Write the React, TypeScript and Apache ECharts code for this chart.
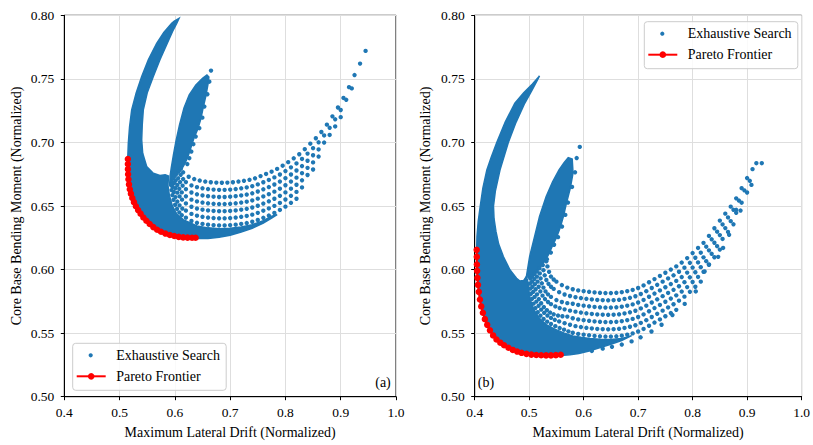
import React, { useEffect, useRef } from "react";
import * as echarts from "echarts";

// ---------- text ----------
const seriesNames = ["Exhaustive Search", "Pareto Frontier"];
const panelLabels = ["(a)", "(b)"];
const xAxisTitle = "Maximum Lateral Drift (Normalized)";
const yAxisTitle = "Core Base Bending Moment (Normalized)";
const xRange = [0.4, 1.0, 0.1];
const yRange = [0.5, 0.8, 0.05];

// ---------- panel (a) ----------
// outline of the saturated (solid) part of the point cloud
const bandA = [
  [0.6075, 0.7976], [0.599, 0.7955], [0.5943, 0.7937], [0.58, 0.7865], [0.5671, 0.778], [0.552, 0.765],
  [0.54, 0.7518], [0.53, 0.739], [0.5219, 0.7256], [0.518, 0.712], [0.5158, 0.6994], [0.5148, 0.688],
  [0.5145, 0.676], [0.517, 0.665], [0.523, 0.656], [0.533, 0.647], [0.545, 0.639], [0.56, 0.6325],
  [0.578, 0.628], [0.6, 0.6255], [0.62, 0.6248], [0.64, 0.6245], [0.66, 0.6245], [0.68, 0.6255],
  [0.7, 0.627], [0.72, 0.6295], [0.74, 0.6325], [0.76, 0.6365], [0.775, 0.6405], [0.785, 0.6432],
  [0.775, 0.642], [0.76, 0.6385], [0.74, 0.6352], [0.72, 0.6335], [0.7, 0.6325], [0.68, 0.6322], [0.66, 0.6328],
  [0.64, 0.6343], [0.62, 0.6383], [0.6151, 0.6393], [0.6036, 0.6436], [0.5955, 0.6501], [0.5902, 0.658],
  [0.5875, 0.6662], [0.5885, 0.6735],
  [0.5825, 0.6745], [0.573, 0.674], [0.561, 0.6758], [0.549, 0.681], [0.5418, 0.6915], [0.54, 0.702],
  [0.541, 0.714], [0.5429, 0.7256], [0.55, 0.739], [0.561, 0.7518], [0.573, 0.765], [0.5863, 0.778],
  [0.596, 0.7875], [0.6033, 0.7937],
];
const hornA = [
  [0.5905, 0.666], [0.5915, 0.674], [0.5935, 0.68], [0.5975, 0.6905], [0.602, 0.701], [0.6085, 0.714],
  [0.6165, 0.727], [0.626, 0.7374], [0.638, 0.7452], [0.65, 0.7505], [0.658, 0.753], [0.6615, 0.7515],
  [0.66, 0.746], [0.656, 0.7365], [0.651, 0.727], [0.647, 0.7185], [0.6415, 0.7105], [0.635, 0.704],
  [0.6305, 0.698], [0.6265, 0.6925], [0.6225, 0.6875], [0.617, 0.6825], [0.612, 0.6788], [0.607, 0.6765],
  [0.6015, 0.675], [0.597, 0.673], [0.5935, 0.6695],
];
const hornTipsA = [
  [0.6654, 0.7565], [0.6623, 0.7478], [0.6587, 0.7379], [0.6533, 0.7282], [0.6497, 0.7195], [0.6442, 0.7112],
  [0.6377, 0.7046], [0.6334, 0.6986], [0.6298, 0.6928], [0.6261, 0.6876], [0.6225, 0.683],
];
const stripA1 = [
  [0.611, 0.6795], [0.615, 0.6765], [0.625, 0.673], [0.635, 0.6712], [0.645, 0.67], [0.655, 0.6692], [0.665, 0.6687],
  [0.675, 0.6684], [0.685, 0.6683], [0.695, 0.6684], [0.705, 0.6687], [0.715, 0.6692], [0.725, 0.6698],
  [0.735, 0.6706], [0.745, 0.6718], [0.755, 0.6735], [0.765, 0.6752], [0.775, 0.677], [0.785, 0.6792],
  [0.795, 0.6817], [0.805, 0.6845], [0.815, 0.6875], [0.825, 0.6907], [0.835, 0.6947], [0.845, 0.699],
  [0.855, 0.7033], [0.865, 0.7082], [0.875, 0.714], [0.885, 0.7205], [0.895, 0.7275], [0.905, 0.735],
  [0.915, 0.7435], [0.925, 0.753], [0.935, 0.762], [0.945, 0.772],
];
const stripA2 = [
  [0.607, 0.6772], [0.6105, 0.6745], [0.615, 0.6712], [0.62, 0.6688], [0.63, 0.6662], [0.64, 0.6648],
  [0.65, 0.6639], [0.66, 0.6633], [0.67, 0.6629], [0.68, 0.6627], [0.69, 0.6627], [0.7, 0.6629],
  [0.71, 0.6633], [0.72, 0.6639], [0.73, 0.6646], [0.74, 0.6656], [0.75, 0.667], [0.76, 0.6687],
  [0.77, 0.6705], [0.78, 0.6725], [0.79, 0.6748], [0.8, 0.6775], [0.81, 0.6804], [0.82, 0.6835],
  [0.83, 0.687], [0.84, 0.6912], [0.85, 0.6955], [0.86, 0.7001], [0.87, 0.7055], [0.88, 0.7115],
  [0.89, 0.7182], [0.9, 0.7255], [0.91, 0.7335], [0.92, 0.7425],
];
const stripA3 = [
  [0.603, 0.6752], [0.606, 0.6718], [0.6095, 0.6688], [0.614, 0.666], [0.62, 0.6632], [0.63, 0.6606],
  [0.64, 0.6592], [0.65, 0.6583], [0.66, 0.6577], [0.67, 0.6573], [0.68, 0.6571], [0.69, 0.6571],
  [0.7, 0.6573], [0.71, 0.6577], [0.72, 0.6583], [0.73, 0.659], [0.74, 0.66], [0.75, 0.6614],
  [0.76, 0.6631], [0.77, 0.6649], [0.78, 0.6669], [0.79, 0.6692], [0.8, 0.6719], [0.81, 0.6748],
  [0.82, 0.6779], [0.83, 0.6814], [0.84, 0.6856], [0.85, 0.6899], [0.86, 0.6945], [0.87, 0.6999],
  [0.88, 0.7059], [0.89, 0.7126], [0.9, 0.7199],
];
const stripA4 = [
  [0.6, 0.6738], [0.6015, 0.67], [0.6045, 0.6665], [0.608, 0.6635], [0.6125, 0.6607], [0.62, 0.6576],
  [0.63, 0.655], [0.64, 0.6536], [0.65, 0.6527], [0.66, 0.6521], [0.67, 0.6517], [0.68, 0.6515],
  [0.69, 0.6515], [0.7, 0.6517], [0.71, 0.6521], [0.72, 0.6527], [0.73, 0.6534], [0.74, 0.6544],
  [0.75, 0.6558], [0.76, 0.6575], [0.77, 0.6593], [0.78, 0.6613], [0.79, 0.6636], [0.8, 0.6663],
  [0.81, 0.6692], [0.82, 0.6723], [0.83, 0.6758], [0.84, 0.68], [0.85, 0.6843], [0.86, 0.6889],
];
const stripA5 = [
  [0.597, 0.6718], [0.5985, 0.668], [0.601, 0.664], [0.6045, 0.6605], [0.6085, 0.6575], [0.613, 0.655],
  [0.62, 0.652], [0.63, 0.6494], [0.64, 0.648], [0.65, 0.6471], [0.66, 0.6465], [0.67, 0.6461],
  [0.68, 0.6459], [0.69, 0.6459], [0.7, 0.6461], [0.71, 0.6465], [0.72, 0.6471], [0.73, 0.6478],
  [0.74, 0.6488], [0.75, 0.6502], [0.76, 0.6519], [0.77, 0.6537], [0.78, 0.6557], [0.79, 0.658],
  [0.8, 0.6607], [0.81, 0.6636], [0.82, 0.6667], [0.83, 0.6702], [0.84, 0.6744], [0.85, 0.6787],
];
const stripA6 = [
  [0.595, 0.669], [0.596, 0.665], [0.598, 0.661], [0.601, 0.657], [0.6045, 0.6535], [0.6085, 0.6505],
  [0.6135, 0.648], [0.62, 0.6464], [0.63, 0.6438], [0.64, 0.6424], [0.65, 0.6415], [0.66, 0.6409],
  [0.67, 0.6405], [0.68, 0.6403], [0.69, 0.6403], [0.7, 0.6405], [0.71, 0.6409], [0.72, 0.6415],
  [0.73, 0.6422], [0.74, 0.6432], [0.75, 0.6446], [0.76, 0.6463], [0.77, 0.6481], [0.78, 0.6501],
  [0.79, 0.6524], [0.8, 0.6551], [0.81, 0.658], [0.82, 0.6611], [0.83, 0.6646],
];
const stripA7 = [
  [0.593, 0.6665], [0.594, 0.6625], [0.5955, 0.6585], [0.5975, 0.6548], [0.6005, 0.651], [0.604, 0.6478],
  [0.608, 0.645], [0.6125, 0.6428], [0.62, 0.6408], [0.63, 0.6382], [0.64, 0.6368], [0.65, 0.6359],
  [0.66, 0.6353], [0.67, 0.6349], [0.68, 0.6347], [0.69, 0.6347], [0.7, 0.6349], [0.71, 0.6353],
  [0.72, 0.6359], [0.73, 0.6366], [0.74, 0.6376], [0.75, 0.639], [0.76, 0.6407], [0.77, 0.6425],
  [0.78, 0.6445], [0.79, 0.6469], [0.8, 0.6495], [0.81, 0.6525], [0.82, 0.6557],
];
const frontierA = [
  [0.515, 0.687], [0.515, 0.683], [0.5151, 0.679], [0.5154, 0.675], [0.516, 0.671], [0.517, 0.667],
  [0.5185, 0.6632], [0.5205, 0.6597], [0.523, 0.6563], [0.526, 0.653], [0.5295, 0.6498], [0.5335, 0.6468],
  [0.538, 0.644], [0.543, 0.641], [0.5485, 0.6384], [0.5545, 0.6358], [0.561, 0.6334], [0.568, 0.6313],
  [0.575, 0.6297], [0.583, 0.6283], [0.591, 0.6272], [0.599, 0.6264], [0.607, 0.6257], [0.615, 0.6253],
  [0.623, 0.6251], [0.631, 0.625], [0.6375, 0.625],
];

// ---------- panel (b) ----------
const bandB = [
  [0.519, 0.7523], [0.506, 0.746], [0.49, 0.739], [0.4737, 0.7308], [0.456, 0.716], [0.4405, 0.7],
  [0.43, 0.688], [0.4223, 0.6784], [0.415, 0.664], [0.4102, 0.65], [0.4065, 0.638], [0.4042, 0.626],
  [0.4036, 0.616], [0.404, 0.605], [0.4047, 0.5972], [0.4065, 0.586], [0.4096, 0.5762], [0.414, 0.568],
  [0.4187, 0.5605], [0.426, 0.5535], [0.4338, 0.5474], [0.443, 0.5435], [0.4519, 0.5405], [0.464, 0.5378],
  [0.4762, 0.5356], [0.491, 0.534], [0.5064, 0.5328], [0.522, 0.5324], [0.5367, 0.5322], [0.548, 0.5323],
  [0.558, 0.5325], [0.575, 0.533], [0.5911, 0.534], [0.61, 0.536], [0.6334, 0.539], [0.65, 0.5412],
  [0.6697, 0.5442], [0.688, 0.548],
  [0.67, 0.5458], [0.65, 0.5449], [0.63, 0.5451], [0.61, 0.5458], [0.595, 0.5467], [0.58, 0.5478],
  [0.5635, 0.5502], [0.547, 0.5531], [0.5315, 0.5567], [0.5188, 0.5617], [0.5088, 0.5683], [0.5022, 0.5762],
  [0.4988, 0.585], [0.4983, 0.5893],
  [0.4949, 0.5945], [0.49, 0.5915], [0.483, 0.591], [0.4768, 0.5932], [0.4646, 0.5998], [0.4526, 0.6103],
  [0.444, 0.62], [0.439, 0.63], [0.4355, 0.64], [0.4345, 0.65], [0.438, 0.662], [0.4465, 0.6784],
  [0.4617, 0.7], [0.476, 0.716], [0.4918, 0.7308], [0.505, 0.741], [0.515, 0.749],
];
const hornB = [
  [0.4949, 0.5945], [0.5009, 0.6103], [0.51, 0.626], [0.519, 0.6418], [0.5312, 0.6575], [0.543, 0.669],
  [0.5548, 0.6784], [0.564, 0.684], [0.5717, 0.688], [0.579, 0.687], [0.5805, 0.676], [0.5755, 0.664],
  [0.568, 0.6515], [0.563, 0.642], [0.557, 0.633], [0.55, 0.625], [0.543, 0.619], [0.537, 0.613],
  [0.53, 0.6075], [0.52, 0.6015], [0.51, 0.5965], [0.501, 0.5935],
];
const hornTipsB = [
  [0.5929, 0.6965], [0.5872, 0.6877], [0.5842, 0.6765], [0.5787, 0.665], [0.5712, 0.6527], [0.5663, 0.643],
  [0.5603, 0.6338], [0.553, 0.6255], [0.5457, 0.6195], [0.5398, 0.6134], [0.5325, 0.6082],
];
const stripB1 = [
  [0.5315, 0.6065], [0.5335, 0.6025], [0.5365, 0.5982], [0.54, 0.5945], [0.545, 0.5922], [0.55, 0.5905],
  [0.56, 0.5878], [0.57, 0.5858], [0.58, 0.5845], [0.59, 0.5836], [0.6, 0.583], [0.61, 0.5825],
  [0.62, 0.582], [0.63, 0.5817], [0.64, 0.5815], [0.65, 0.5815], [0.66, 0.5817], [0.67, 0.5822],
  [0.68, 0.583], [0.69, 0.584], [0.7, 0.5855], [0.71, 0.5875], [0.72, 0.59], [0.73, 0.5925],
  [0.74, 0.595], [0.75, 0.5975], [0.76, 0.6], [0.77, 0.6025], [0.78, 0.6055], [0.79, 0.609],
  [0.8, 0.613], [0.81, 0.617], [0.82, 0.621], [0.83, 0.6265], [0.84, 0.6325], [0.85, 0.6385],
  [0.86, 0.644], [0.87, 0.6495], [0.88, 0.656], [0.89, 0.664], [0.9, 0.672], [0.91, 0.679],
  [0.917, 0.6837], [0.927, 0.6837],
];
const stripB2 = [
  [0.525, 0.6035], [0.5262, 0.5995], [0.5285, 0.5955], [0.5315, 0.5918], [0.5355, 0.5888], [0.54, 0.5865],
  [0.545, 0.5848], [0.555, 0.5822], [0.565, 0.5804], [0.575, 0.5792], [0.585, 0.5783], [0.595, 0.5776],
  [0.605, 0.577], [0.615, 0.5765], [0.625, 0.5761], [0.635, 0.5759], [0.645, 0.5758], [0.655, 0.5759],
  [0.665, 0.5762], [0.675, 0.5769], [0.685, 0.5778], [0.695, 0.579], [0.705, 0.5808], [0.715, 0.583],
  [0.725, 0.5855], [0.735, 0.588], [0.745, 0.5905], [0.755, 0.593], [0.765, 0.5955], [0.775, 0.5983],
  [0.785, 0.6015], [0.795, 0.6053], [0.805, 0.6093], [0.815, 0.6133], [0.825, 0.618], [0.835, 0.6238],
  [0.845, 0.6298], [0.855, 0.6355], [0.865, 0.641], [0.875, 0.647], [0.885, 0.6543], [0.895, 0.6623],
  [0.905, 0.6698],
];
const stripB3 = [
  [0.519, 0.601], [0.5195, 0.597], [0.521, 0.593], [0.5232, 0.5892], [0.5262, 0.5858], [0.53, 0.5828],
  [0.5345, 0.5805], [0.54, 0.5785], [0.55, 0.576], [0.56, 0.5745], [0.57, 0.5736], [0.58, 0.5731],
  [0.59, 0.5722], [0.6, 0.5716], [0.61, 0.5711], [0.62, 0.5706], [0.63, 0.5703], [0.64, 0.5701],
  [0.65, 0.5701], [0.66, 0.5703], [0.67, 0.5708], [0.68, 0.5716], [0.69, 0.5726], [0.7, 0.5741],
  [0.71, 0.5761], [0.72, 0.5786], [0.73, 0.5811], [0.74, 0.5836], [0.75, 0.5861], [0.76, 0.5886],
  [0.77, 0.5911], [0.78, 0.5941], [0.79, 0.5976], [0.8, 0.6016], [0.81, 0.6056], [0.82, 0.6096],
  [0.83, 0.6151], [0.84, 0.6211], [0.85, 0.6271], [0.86, 0.6326], [0.87, 0.6381], [0.88, 0.6446],
  [0.89, 0.6526], [0.9, 0.6606],
];
const stripB4 = [
  [0.514, 0.5985], [0.5142, 0.5945], [0.5155, 0.5905], [0.5175, 0.5865], [0.5205, 0.5828], [0.5245, 0.5795],
  [0.529, 0.5768], [0.5345, 0.5745], [0.54, 0.5728], [0.548, 0.571], [0.556, 0.5697], [0.565, 0.5687],
  [0.575, 0.5677], [0.585, 0.5669], [0.595, 0.5662], [0.605, 0.5656], [0.615, 0.5651], [0.625, 0.5647],
  [0.635, 0.5645], [0.645, 0.5644], [0.655, 0.5645], [0.665, 0.5648], [0.675, 0.5655], [0.685, 0.5664],
  [0.695, 0.5676], [0.705, 0.5694], [0.715, 0.5716], [0.725, 0.5741], [0.735, 0.5766], [0.745, 0.5791],
  [0.755, 0.5816], [0.765, 0.5841], [0.775, 0.5869], [0.785, 0.5901], [0.795, 0.5939], [0.805, 0.5979],
  [0.815, 0.6019], [0.825, 0.6066], [0.835, 0.6124], [0.845, 0.6184], [0.855, 0.6241], [0.865, 0.6296],
  [0.875, 0.6356],
];
const stripB5 = [
  [0.5095, 0.5965], [0.5095, 0.5925], [0.5105, 0.5885], [0.512, 0.5845], [0.5145, 0.5805], [0.5178, 0.5768],
  [0.522, 0.5735], [0.527, 0.5705], [0.5325, 0.568], [0.5385, 0.5662], [0.545, 0.5648], [0.553, 0.5638],
  [0.561, 0.5633], [0.57, 0.563], [0.58, 0.5617], [0.59, 0.5608], [0.6, 0.5602], [0.61, 0.5597],
  [0.62, 0.5592], [0.63, 0.5589], [0.64, 0.5587], [0.65, 0.5587], [0.66, 0.5589], [0.67, 0.5594],
  [0.68, 0.5602], [0.69, 0.5612], [0.7, 0.5627], [0.71, 0.5647], [0.72, 0.5672], [0.73, 0.5697],
  [0.74, 0.5722], [0.75, 0.5747], [0.76, 0.5772], [0.77, 0.5797], [0.78, 0.5827], [0.79, 0.5862],
  [0.8, 0.5902], [0.81, 0.5942], [0.82, 0.5982], [0.83, 0.6037], [0.84, 0.6097], [0.85, 0.6157],
];
const stripB6 = [
  [0.5055, 0.5945], [0.5053, 0.5905], [0.506, 0.5865], [0.5075, 0.5825], [0.51, 0.5785], [0.5132, 0.5748],
  [0.5172, 0.5715], [0.522, 0.5685], [0.5275, 0.566], [0.5335, 0.5638], [0.54, 0.562], [0.547, 0.5605],
  [0.555, 0.5592], [0.565, 0.5578], [0.575, 0.5566], [0.585, 0.5555], [0.595, 0.5548], [0.605, 0.5542],
  [0.615, 0.5537], [0.625, 0.5533], [0.635, 0.5531], [0.645, 0.553], [0.655, 0.5531], [0.665, 0.5534],
  [0.675, 0.5541], [0.685, 0.555], [0.695, 0.5562], [0.705, 0.558], [0.715, 0.5602], [0.725, 0.5627],
  [0.735, 0.5652], [0.745, 0.5677], [0.755, 0.5702], [0.765, 0.5727], [0.775, 0.5755], [0.785, 0.5787],
  [0.795, 0.5825], [0.805, 0.5865], [0.815, 0.5905],
];
const stripB7 = [
  [0.502, 0.593], [0.5015, 0.589], [0.502, 0.585], [0.5032, 0.581], [0.5052, 0.577], [0.508, 0.5732],
  [0.5115, 0.5697], [0.5158, 0.5665], [0.5208, 0.5637], [0.5265, 0.5612], [0.533, 0.559], [0.54, 0.5572],
  [0.548, 0.5555], [0.556, 0.554], [0.564, 0.5527], [0.572, 0.5514], [0.58, 0.5503], [0.59, 0.5494],
  [0.6, 0.5488], [0.61, 0.5483], [0.62, 0.5478], [0.63, 0.5475], [0.64, 0.5473], [0.65, 0.5473],
  [0.66, 0.5475], [0.67, 0.548], [0.68, 0.5488], [0.69, 0.5498], [0.7, 0.5513], [0.71, 0.5533],
  [0.72, 0.5558], [0.73, 0.5583], [0.74, 0.5608], [0.75, 0.5633], [0.76, 0.5658], [0.77, 0.5683],
];
const lowTipsB = [
  [0.615, 0.536], [0.635, 0.5378], [0.652, 0.5392], [0.67, 0.541], [0.688, 0.5435], [0.7045, 0.5467],
  [0.7245, 0.5513], [0.743, 0.5566], [0.763, 0.5642], [0.7855, 0.573], [0.8058, 0.5828], [0.822, 0.5985],
  [0.83, 0.604], [0.847, 0.61], [0.856, 0.617], [0.867, 0.6273], [0.88, 0.647], [0.888, 0.6464], [0.908, 0.6666],
];
const frontierB = [
  [0.4036, 0.6155], [0.4038, 0.61], [0.404, 0.604], [0.4044, 0.599], [0.405, 0.5935], [0.406, 0.588],
  [0.4075, 0.5825], [0.4096, 0.5765], [0.412, 0.571], [0.415, 0.566], [0.4187, 0.561], [0.423, 0.5565],
  [0.428, 0.5522], [0.4338, 0.5482], [0.44, 0.545], [0.447, 0.5425], [0.454, 0.5405], [0.462, 0.5385],
  [0.47, 0.5368], [0.478, 0.5355], [0.486, 0.5345], [0.495, 0.5337], [0.504, 0.5331], [0.513, 0.5328],
  [0.522, 0.5326], [0.531, 0.5325], [0.54, 0.5325], [0.549, 0.5327], [0.5579, 0.533],
];

const BLUE = "#1f77b4";
const RED = "#ff0000";
const FONT = "'Liberation Serif', 'Times New Roman', serif";

const panels = [
  {
    band: bandA, horn: hornA,
    dots: [...stripA1, ...stripA2, ...stripA3, ...stripA4, ...stripA5, ...stripA6, ...stripA7, ...hornTipsA],
    frontier: frontierA,
  },
  {
    band: bandB, horn: hornB,
    dots: [...stripB1, ...stripB2, ...stripB3, ...stripB4, ...stripB5, ...stripB6, ...stripB7, ...hornTipsB, ...lowTipsB],
    frontier: frontierB,
  },
];

const grids = [
  { left: 64.3, top: 15.3, width: 331.7, height: 381.4 },
  { left: 474.7, top: 15.3, width: 330.6, height: 381.4 },
];

function polygonSeries(poly: number[][], idx: number) {
  return {
    type: "custom",
    xAxisIndex: idx,
    yAxisIndex: idx,
    data: poly,
    clip: true,
    silent: true,
    z: 1,
    renderItem: (params: any, api: any) => {
      if (params.dataIndex !== 0) return null;
      const pts = poly.map((p) => api.coord(p));
      return {
        type: "polygon",
        shape: { points: pts },
        style: { fill: BLUE, stroke: BLUE, lineWidth: 1.5 },
      };
    },
  };
}

function legendGraphic(x: number, y: number) {
  return [
    {
      type: "rect",
      shape: { x, y, width: 153.5, height: 47, r: 3 },
      style: { fill: "rgba(255,255,255,0.85)", stroke: "#cccccc", lineWidth: 1 },
      z: 100,
    },
    { type: "circle", shape: { cx: x + 18, cy: y + 12, r: 2.1 }, style: { fill: BLUE }, z: 101 },
    {
      type: "text", x: x + 43.5, y: y + 12, z: 101,
      style: { text: seriesNames[0], fontSize: 14, fontFamily: FONT, fill: "#000", align: "left", verticalAlign: "middle" },
    },
    { type: "line", shape: { x1: x + 4, y1: y + 33, x2: x + 33, y2: y + 33 }, style: { stroke: RED, lineWidth: 2 }, z: 101 },
    { type: "circle", shape: { cx: x + 18.5, cy: y + 33, r: 3.3 }, style: { fill: RED }, z: 102 },
    {
      type: "text", x: x + 43.5, y: y + 33, z: 101,
      style: { text: seriesNames[1], fontSize: 14, fontFamily: FONT, fill: "#000", align: "left", verticalAlign: "middle" },
    },
  ];
}

export default function App() {
  const ref = useRef<HTMLDivElement>(null);
  useEffect(() => {
    if (!ref.current) return;
    const chart = echarts.init(ref.current, undefined, { renderer: "svg" });
    const xAxes = grids.map((_, i) => ({
      type: "value",
      gridIndex: i,
      min: xRange[0],
      max: xRange[1],
      interval: xRange[2],
      name: xAxisTitle,
      nameLocation: "middle",
      nameGap: 29,
      nameTextStyle: { fontFamily: FONT, fontSize: 14, color: "#000" },
      axisLine: { show: true, onZero: false, lineStyle: { color: "#000", width: 1 } },
      axisTick: { show: true, inside: false, length: 3.5, lineStyle: { color: "#000", width: 1 } },
      axisLabel: { fontFamily: FONT, fontSize: 13.5, color: "#000", margin: 9, formatter: (v: number) => v.toFixed(1) },
      splitLine: { show: true, lineStyle: { color: "#dedede", width: 1 } },
    }));
    const yAxes = grids.map((_, i) => ({
      type: "value",
      gridIndex: i,
      min: yRange[0],
      max: yRange[1],
      interval: yRange[2],
      name: yAxisTitle,
      nameLocation: "middle",
      nameGap: i === 0 ? 41 : 42.5,
      nameTextStyle: { fontFamily: FONT, fontSize: 14, color: "#000" },
      axisLine: { show: true, onZero: false, lineStyle: { color: "#000", width: 1 } },
      axisTick: { show: true, inside: false, length: 3.5, lineStyle: { color: "#000", width: 1 } },
      axisLabel: { fontFamily: FONT, fontSize: 13.5, color: "#000", margin: 10, formatter: (v: number) => v.toFixed(2) },
      splitLine: { show: true, lineStyle: { color: "#dedede", width: 1 } },
    }));
    const series: any[] = [];
    panels.forEach((p, i) => {
      series.push(polygonSeries(p.band, i));
      series.push(polygonSeries(p.horn, i));
      series.push({
        type: "scatter",
        name: seriesNames[0],
        xAxisIndex: i,
        yAxisIndex: i,
        data: p.dots,
        symbol: "circle",
        symbolSize: 4.4,
        itemStyle: { color: BLUE, opacity: 1 },
        z: 2,
        silent: true,
      });
      series.push({
        type: "line",
        name: seriesNames[1],
        xAxisIndex: i,
        yAxisIndex: i,
        data: p.frontier,
        symbol: "circle",
        symbolSize: 6.5,
        showSymbol: true,
        showAllSymbol: true,
        lineStyle: { color: RED, width: 2 },
        itemStyle: { color: RED },
        z: 5,
        silent: true,
      });
    });
    chart.setOption({
      animation: false,
      backgroundColor: "#ffffff",
      grid: grids.map((g) => ({ ...g, show: true, borderColor: "#000", borderWidth: 1, backgroundColor: "transparent", containLabel: false })),
      xAxis: xAxes,
      yAxis: yAxes,
      series,
      graphic: [
        ...legendGraphic(72.7, 343.3),
        ...legendGraphic(644.3, 21.7),
        {
          type: "text", x: 383, y: 382.7, z: 101,
          style: { text: panelLabels[0], fontSize: 14, fontFamily: FONT, fill: "#000", align: "center", verticalAlign: "middle" },
        },
        {
          type: "text", x: 486, y: 382.7, z: 101,
          style: { text: panelLabels[1], fontSize: 14, fontFamily: FONT, fill: "#000", align: "center", verticalAlign: "middle" },
        },
      ],
    });
    return () => chart.dispose();
  }, []);
  return <div ref={ref} style={{ position: "absolute", left: 0, top: 0, width: 813, height: 445 }} />;
}
